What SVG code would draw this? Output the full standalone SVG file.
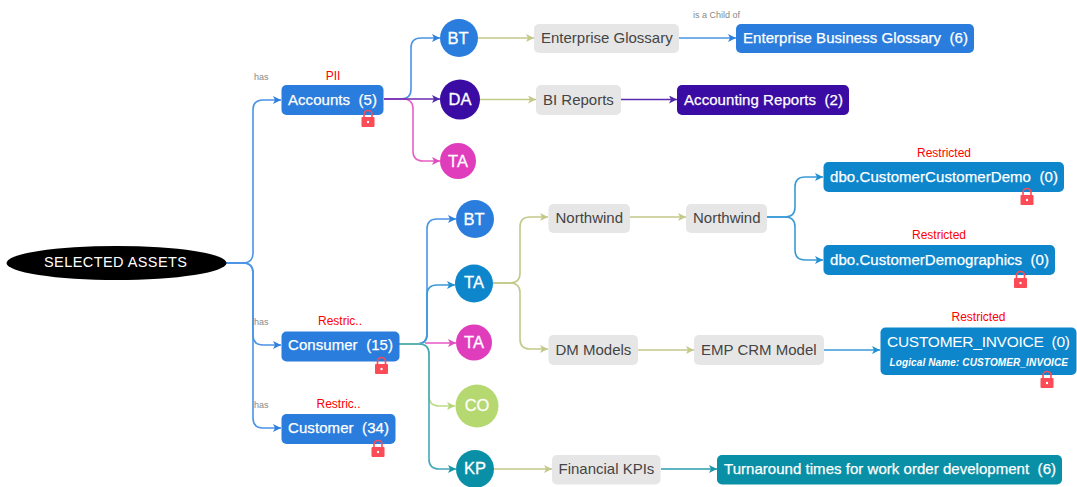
<svg xmlns="http://www.w3.org/2000/svg" width="1077" height="487" viewBox="0 0 1077 487">
<style>
text{font-family:"Liberation Sans",Arial,sans-serif;white-space:pre}
.t{font-size:15px;fill:#fff;stroke:#fff;stroke-width:.25px}
.g{font-size:15px;fill:#444}
.c{font-size:16.500px;fill:#fff;stroke:#fff;stroke-width:.3px;text-anchor:middle}
.r{font-size:12px;fill:#f00;text-anchor:middle}
.h{font-size:9px;fill:#888}
.e{fill:none;stroke-width:1.600}
.gn{fill:#e6e6e6}
.blue{fill:#2a7ddc}
.sea{fill:#0d86cb}
.pur{fill:#3a0ca3}
.teal{fill:#0a90a6}
.lock{fill:#fb4b57}
.shackle{fill:none;stroke:#fb4b57;stroke-width:1.600}
</style>
<defs>
<marker id="ab" markerWidth="9" markerHeight="8" refX="8" refY="4" orient="auto" markerUnits="userSpaceOnUse"><path d="M0 0L8 4L0 8L2 4Z" fill="#2f7fdc"/></marker>
<marker id="ap" markerWidth="9" markerHeight="8" refX="8" refY="4" orient="auto" markerUnits="userSpaceOnUse"><path d="M0 0L8 4L0 8L2 4Z" fill="#4f2aa8"/></marker>
<marker id="am" markerWidth="9" markerHeight="8" refX="8" refY="4" orient="auto" markerUnits="userSpaceOnUse"><path d="M0 0L8 4L0 8L2 4Z" fill="#e04cc0"/></marker>
<marker id="ao" markerWidth="9" markerHeight="8" refX="8" refY="4" orient="auto" markerUnits="userSpaceOnUse"><path d="M0 0L8 4L0 8L2 4Z" fill="#c3c98a"/></marker>
<marker id="as" markerWidth="9" markerHeight="8" refX="8" refY="4" orient="auto" markerUnits="userSpaceOnUse"><path d="M0 0L8 4L0 8L2 4Z" fill="#2090d0"/></marker>
<marker id="ag" markerWidth="9" markerHeight="8" refX="8" refY="4" orient="auto" markerUnits="userSpaceOnUse"><path d="M0 0L8 4L0 8L2 4Z" fill="#b5d77a"/></marker>
<marker id="at" markerWidth="9" markerHeight="8" refX="8" refY="4" orient="auto" markerUnits="userSpaceOnUse"><path d="M0 0L8 4L0 8L2 4Z" fill="#1c95aa"/></marker>
<g id="lk"><path class="shackle" d="M-4 0V-3.500a4 4 0 0 1 8 0V0"/><rect class="lock" x="-6.500" y="-1" width="13" height="10" rx="1"/><circle cx="0" cy="4" r="1.200" fill="#fff"/></g>
</defs>
<g id="connectors">
<path class="e" stroke="#4a94e6" marker-end="url(#ab)" d="M226 263H243Q253 263 253 253V110Q253 100 263 100H281"/>
<path class="e" stroke="#4a94e6" marker-end="url(#ab)" d="M226 263H243Q253 263 253 273V335Q253 345 263 345H281"/>
<path class="e" stroke="#4a94e6" marker-end="url(#ab)" d="M226 263H243Q253 263 253 273V418Q253 428 263 428H281"/>
<path class="e" stroke="#4a94e6" marker-end="url(#ab)" d="M384 99H401Q411 99 411 89V48Q411 38 421 38H440"/>
<path class="e" stroke="#e860c8" marker-end="url(#am)" d="M384 99H403Q413 99 413 109V151Q413 161 423 161H440"/>
<path class="e" stroke="#6a2ab0" marker-end="url(#ap)" d="M384 99H440"/>
<path class="e" stroke="#c3c98a" marker-end="url(#ao)" d="M478 38H534"/>
<path class="e" stroke="#c3c98a" marker-end="url(#ao)" d="M480 99.500H536"/>
<path class="e" stroke="#4a94e6" marker-end="url(#ab)" d="M679 38H736"/>
<path class="e" stroke="#5a2cb0" marker-end="url(#ap)" d="M621 99.500H677"/>
<path class="e" stroke="#4a94e6" marker-end="url(#ab)" d="M399 344H417Q427 344 427 334V229Q427 219 437 219H456"/>
<path class="e" stroke="#3a9ad8" marker-end="url(#as)" d="M399 344H417Q427 344 427 334V295Q427 285 437 285H455"/>
<path class="e" stroke="#bedd8a" marker-end="url(#ag)" d="M399 344H419Q429 344 429 354V396Q429 406 439 406H455"/>
<path class="e" stroke="#45a8b8" marker-end="url(#at)" d="M399 344H419Q429 344 429 354V459Q429 469 439 469H456"/>
<path class="e" stroke="#e860c8" marker-end="url(#am)" d="M425 343H456"/>
<path class="e" stroke="#c3c98a" marker-end="url(#ao)" d="M493 283H510Q520 283 520 273V227Q520 217 530 217H548"/>
<path class="e" stroke="#c3c98a" marker-end="url(#ao)" d="M493 283H510Q520 283 520 293V339Q520 349 530 349H548"/>
<path class="e" stroke="#c3c98a" marker-end="url(#ao)" d="M630 217H686"/>
<path class="e" stroke="#c3c98a" marker-end="url(#ao)" d="M638 350H694"/>
<path class="e" stroke="#c3c98a" marker-end="url(#ao)" d="M494 469H552"/>
<path class="e" stroke="#3a9ad8" marker-end="url(#as)" d="M767 217H785Q795 217 795 207V187Q795 177 805 177H823"/>
<path class="e" stroke="#3a9ad8" marker-end="url(#as)" d="M767 217H785Q795 217 795 227V250Q795 260 805 260H823"/>
<path class="e" stroke="#3a9ad8" marker-end="url(#as)" d="M824 350H880"/>
<path class="e" stroke="#2a9bb0" marker-end="url(#at)" d="M661 469H717"/>
</g>
<g id="n-root"><ellipse cx="116.500" cy="263" rx="110" ry="17" fill="#000"/><text x="44" y="267" font-size="14.500px" fill="#fff" textLength="143">SELECTED ASSETS</text></g>
<g id="n-accounts"><text class="h" x="254" y="80">has</text><text class="r" x="333" y="80">PII</text><rect class="blue" x="281.500" y="85" width="102" height="30" rx="5"/><text class="t" x="288" y="104.500" textLength="89">Accounts  (5)</text><use href="#lk" x="368" y="118"/></g>
<g id="n-consumer"><text class="h" x="254" y="325">has</text><text class="r" x="340" y="325">Restric..</text><rect class="blue" x="281.500" y="331.500" width="118" height="30" rx="5"/><text class="t" x="288" y="350" textLength="105">Consumer  (15)</text><use href="#lk" x="381.500" y="365"/></g>
<g id="n-customer"><text class="h" x="254" y="408">has</text><text class="r" x="338.500" y="408">Restric..</text><rect class="blue" x="281.500" y="414" width="114" height="30" rx="5"/><text class="t" x="288" y="432.500" textLength="101">Customer  (34)</text><use href="#lk" x="378" y="448"/></g>
<g id="n-bt1"><circle class="blue" cx="459" cy="38" r="19"/><text class="c" x="458" y="43.500">BT</text></g>
<g id="n-da"><circle class="pur" cx="460" cy="99.500" r="20"/><text class="c" x="460" y="105">DA</text></g>
<g id="n-ta1"><circle cx="458" cy="161" r="18" fill="#e03dbd"/><text class="c" x="458" y="166.500">TA</text></g>
<g id="n-bt2"><circle class="blue" cx="475" cy="219" r="19"/><text class="c" x="474" y="224.500">BT</text></g>
<g id="n-ta2"><circle class="sea" cx="474" cy="283.500" r="19"/><text class="c" x="474" y="288">TA</text></g>
<g id="n-ta3"><circle cx="474" cy="342.500" r="18" fill="#e03dbd"/><text class="c" x="474" y="347.500">TA</text></g>
<g id="n-co"><circle cx="477" cy="406" r="21.500" fill="#b5d870"/><text class="c" x="477" y="410.500">CO</text></g>
<g id="n-kp"><circle class="teal" cx="475" cy="469" r="19"/><text class="c" x="475" y="474">KP</text></g>
<g id="n-glossary"><rect class="gn" x="534" y="24" width="145" height="29" rx="5"/><text class="g" x="541" y="42.500">Enterprise Glossary</text></g>
<g id="n-bireports"><rect class="gn" x="536" y="85" width="85" height="30" rx="5"/><text class="g" x="543" y="104.500">BI Reports</text></g>
<g id="n-northwind1"><rect class="gn" x="548.500" y="204" width="81.500" height="29" rx="5"/><text class="g" x="555.500" y="222.500">Northwind</text></g>
<g id="n-northwind2"><rect class="gn" x="686" y="204" width="81" height="29" rx="5"/><text class="g" x="693" y="222.500">Northwind</text></g>
<g id="n-dm"><rect class="gn" x="548.500" y="335" width="89.500" height="30" rx="5"/><text class="g" x="555.500" y="354.500">DM Models</text></g>
<g id="n-emp"><rect class="gn" x="694" y="335" width="130" height="30" rx="5"/><text class="g" x="701" y="354.500">EMP CRM Model</text></g>
<g id="n-fin"><rect class="gn" x="552" y="455" width="108.500" height="29.500" rx="5"/><text class="g" x="558.500" y="474">Financial KPIs</text></g>
<g id="n-ebg"><text class="h" x="693" y="18" font-size="8.500px">is a Child of</text><rect class="blue" x="736" y="24" width="238" height="29" rx="5"/><text class="t" x="743" y="42.500" textLength="225">Enterprise Business Glossary  (6)</text></g>
<g id="n-acc-rep"><rect class="pur" x="677" y="85" width="172" height="30" rx="5"/><text class="t" x="684" y="104.500" textLength="159">Accounting Reports  (2)</text></g>
<g id="n-ccd"><text class="r" x="944" y="156.500">Restricted</text><rect class="sea" x="823.500" y="162" width="240.500" height="30" rx="5"/><text class="t" x="830" y="181.500" textLength="228">dbo.CustomerCustomerDemo  (0)</text><use href="#lk" x="1027" y="196"/></g>
<g id="n-cd"><text class="r" x="939" y="239">Restricted</text><rect class="sea" x="823.500" y="245" width="231.500" height="30" rx="5"/><text class="t" x="830" y="264.500" textLength="219">dbo.CustomerDemographics  (0)</text><use href="#lk" x="1020.500" y="279"/></g>
<g id="n-inv"><text class="r" x="978.500" y="321">Restricted</text><rect class="sea" x="880.500" y="327.500" width="196" height="47.500" rx="5"/><text x="887" y="346.500" font-size="15.500px" fill="#fff" textLength="183">CUSTOMER_INVOICE  (0)</text><text x="889.500" y="366" font-size="10px" font-weight="700" font-style="italic" fill="#fff" textLength="178.500">Logical Name: CUSTOMER_INVOICE</text><use href="#lk" x="1047" y="379"/></g>
<g id="n-turn"><rect class="teal" x="717" y="455" width="345" height="29.500" rx="5"/><text class="t" x="724" y="473.500" textLength="332">Turnaround times for work order development  (6)</text></g>
</svg>
